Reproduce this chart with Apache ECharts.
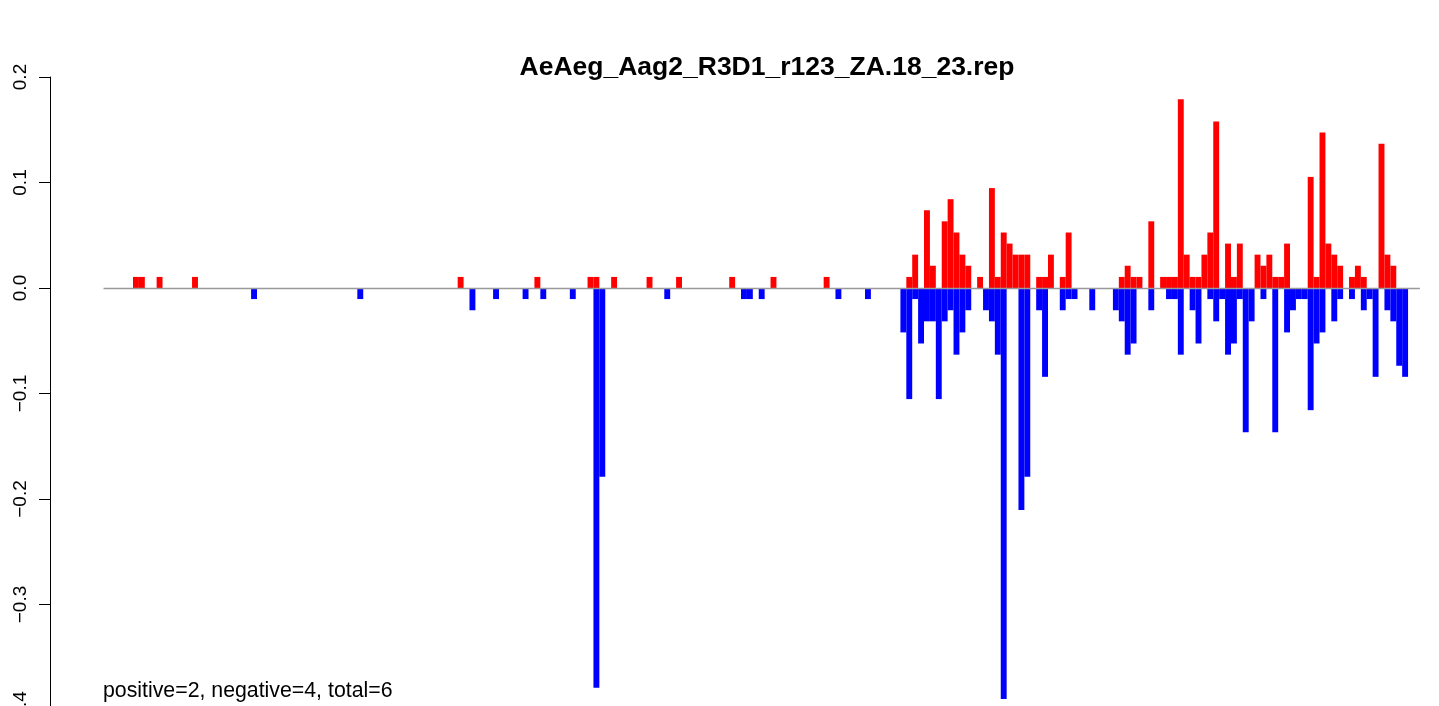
<!DOCTYPE html>
<html>
<head>
<meta charset="utf-8">
<title>AeAeg_Aag2_R3D1_r123_ZA.18_23.rep</title>
<script src="https://cdn.jsdelivr.net/npm/echarts@6/dist/echarts.min.js"></script>
<style>
html, body { margin: 0; padding: 0; background: #fff; }
#main { width: 1439px; height: 706px; }
</style>
</head>
<body>
<div id="main"></div>
<script>
var chartTitle = 'AeAeg_Aag2_R3D1_r123_ZA.18_23.rep';
var summaryText = 'positive=2, negative=4, total=6';
var binCount = 221;
var yTicks = [0.2, 0.1, 0.0, -0.1, -0.2, -0.3, -0.4];

// red bars: bin index + value
var posBins = [5, 6, 9, 15, 60, 73, 82, 83, 86, 92, 97, 106, 113, 122,
    136, 137, 139, 140, 142, 143, 144, 145, 146, 148, 150, 151, 152, 153, 154, 155, 156, 158, 159, 160, 162, 163,
    172, 173, 174, 175, 177, 179, 180, 181, 182, 183, 184, 185, 186, 187, 188, 190, 191, 192,
    195, 196, 197, 198, 199, 200, 204, 205, 206, 207, 208, 209, 211, 212, 213, 216, 217, 218];
var posVals = [0.0105, 0.0105, 0.0105, 0.0105, 0.0105, 0.0105, 0.0105, 0.0105, 0.0105, 0.0105, 0.0105, 0.0105, 0.0105, 0.0105,
    0.0105, 0.0316, 0.0737, 0.0211, 0.0632, 0.0842, 0.0526, 0.0316, 0.0211, 0.0105, 0.0947, 0.0105, 0.0526, 0.0421, 0.0316, 0.0316, 0.0316, 0.0105, 0.0105, 0.0316, 0.0105, 0.0526,
    0.0105, 0.0211, 0.0105, 0.0105, 0.0632, 0.0105, 0.0105, 0.0105, 0.1789, 0.0316, 0.0105, 0.0105, 0.0316, 0.0526, 0.1579, 0.0421, 0.0105, 0.0421,
    0.0316, 0.0211, 0.0316, 0.0105, 0.0105, 0.0421, 0.1053, 0.0105, 0.1474, 0.0421, 0.0316, 0.0211, 0.0105, 0.0211, 0.0105, 0.1368, 0.0316, 0.0211];

// blue bars: bin index + value
var negBins = [25, 43, 62, 66, 71, 74, 79, 83, 84, 95, 108, 109, 111, 124, 129,
    135, 136, 137, 138, 139, 140, 141, 142, 143, 144, 145, 146, 149, 150, 151, 152, 155, 156, 158, 159, 162, 163, 164, 167,
    171, 172, 173, 174, 177, 180, 181, 182, 184, 185, 187, 188, 189, 190, 191, 192, 193, 194, 196, 198,
    200, 201, 202, 203, 204, 205, 206, 208, 209, 211, 213, 214, 215, 217, 218, 219, 220];
var negVals = [-0.0105, -0.0105, -0.0211, -0.0105, -0.0105, -0.0105, -0.0105, -0.3789, -0.1789, -0.0105, -0.0105, -0.0105, -0.0105, -0.0105, -0.0105,
    -0.0421, -0.1053, -0.0105, -0.0526, -0.0316, -0.0316, -0.1053, -0.0316, -0.0211, -0.0632, -0.0421, -0.0211, -0.0211, -0.0316, -0.0632, -0.3895, -0.2105, -0.1789, -0.0211, -0.0842, -0.0211, -0.0105, -0.0105, -0.0211,
    -0.0211, -0.0316, -0.0632, -0.0526, -0.0211, -0.0105, -0.0105, -0.0632, -0.0211, -0.0526, -0.0105, -0.0316, -0.0105, -0.0632, -0.0526, -0.0105, -0.1368, -0.0316, -0.0105, -0.1368,
    -0.0421, -0.0211, -0.0105, -0.0105, -0.1158, -0.0526, -0.0421, -0.0316, -0.0105, -0.0105, -0.0211, -0.0105, -0.0842, -0.0211, -0.0316, -0.0737, -0.0842];

function pairs(bins, vals) {
    var res = [];
    for (var i = 0; i < bins.length; i++) {
        res.push([bins[i], vals[i]]);
    }
    return res;
}

var font = 'Liberation Sans, Arial, sans-serif';
var axisX = 50;         // y axis line
var firstBinX = 103.5;  // left edge of bin 0
var binPx = 5.903;
var xMax = binCount + 1.5;
var xMin = -0.5 - (firstBinX - axisX) / binPx;
var gridRight = 1439 - firstBinX - binPx * (xMax + 0.5);

var myChart = echarts.init(document.getElementById('main'));
var option = {
    animation: false,
    backgroundColor: '#fff',
    title: {
        text: chartTitle,
        left: 767,
        top: 54,
        textAlign: 'center',
        padding: 0,
        textStyle: { fontFamily: font, fontSize: 26.5, fontWeight: 'bold', color: '#000' }
    },
    graphic: [{
        type: 'text',
        left: 103,
        top: 681,
        style: { text: summaryText, font: '21.3px ' + font, fill: '#000' }
    }],
    grid: { left: axisX, right: gridRight, top: 77, bottom: -4, outerBoundsMode: 'none', containLabel: false },
    xAxis: {
        type: 'value',
        min: xMin,
        max: xMax,
        show: false,
        axisLine: { onZero: false }
    },
    yAxis: {
        type: 'value',
        min: yTicks[yTicks.length - 1],
        max: yTicks[0],
        interval: 0.1,
        axisLine: { show: true, onZero: false, lineStyle: { color: '#000', width: 1 } },
        axisTick: { show: true, length: 11, lineStyle: { color: '#000' } },
        axisLabel: {
            rotate: 90,
            margin: 20,
            fontFamily: font,
            fontSize: 19,
            color: '#000',
            formatter: function (v) {
                var s = Math.abs(v).toFixed(1);
                return v < -1e-9 ? '\u2212' + s : s;
            }
        },
        splitLine: { show: false }
    },
    series: [{
        name: 'positive',
        type: 'bar',
        data: pairs(posBins, posVals),
        barWidth: binPx,
        barGap: '-100%',
        itemStyle: { color: '#ff0000' },
        markLine: {
            silent: true,
            symbol: 'none',
            label: { show: false },
            lineStyle: { color: '#999', width: 1.3, type: 'solid' },
            data: [[{ coord: [-0.5, 0] }, { coord: [xMax, 0] }]]
        }
    }, {
        name: 'negative',
        type: 'bar',
        data: pairs(negBins, negVals),
        barWidth: binPx,
        barGap: '-100%',
        itemStyle: { color: '#0000ff' }
    }]
};
myChart.setOption(option);
</script>
</body>
</html>
